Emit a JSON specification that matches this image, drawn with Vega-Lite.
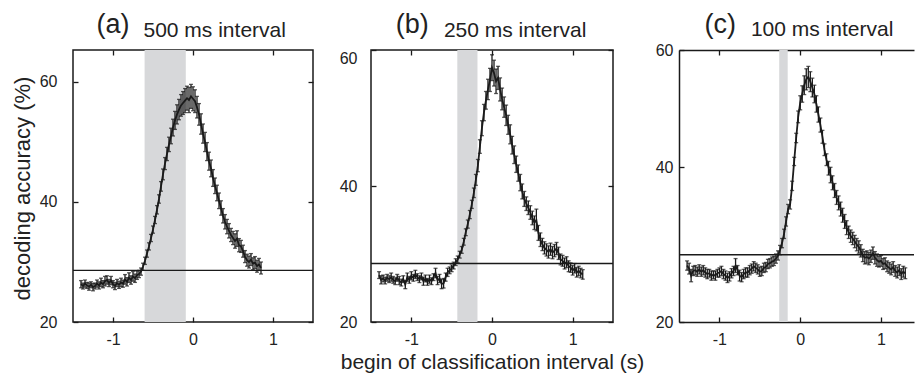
{
"$schema": "https://vega.github.io/schema/vega-lite/v6.json",
"padding": {"left": 10, "top": 9, "right": 0, "bottom": 0},
"background": "white",
"config": {
 "font": "Liberation Sans",
 "view": {"stroke": "#1a1a1a", "strokeWidth": 1.5},
 "axis": {"grid": false, "domain": false, "domainColor": "#1a1a1a", "domainWidth": 1.5, "tickColor": "#1a1a1a", "tickWidth": 1.3, "labelFont": "Liberation Sans", "labelFontSize": 16, "labelColor": "#222", "titleFont": "Liberation Sans", "titleFontWeight": "normal", "titleColor": "#222"}
},
"datasets": {
 "a": [
  {"x":-1.4,"y":26.3,"e":0.6},{"x":-1.375,"y":26.0,"e":0.5},{"x":-1.35,"y":26.4,"e":0.6},{"x":-1.325,"y":26.1,"e":0.5},{"x":-1.3,"y":25.9,"e":0.6},{"x":-1.275,"y":26.2,"e":0.5},{"x":-1.25,"y":25.8,"e":0.6},{"x":-1.225,"y":26.0,"e":0.5},{"x":-1.2,"y":26.4,"e":0.6},{"x":-1.175,"y":26.1,"e":0.6},{"x":-1.15,"y":26.6,"e":0.7},{"x":-1.125,"y":26.3,"e":0.6},{"x":-1.1,"y":26.8,"e":0.8},{"x":-1.075,"y":27.0,"e":0.7},{"x":-1.05,"y":26.5,"e":0.6},{"x":-1.025,"y":26.9,"e":0.7},{"x":-1.0,"y":26.3,"e":0.6},{"x":-0.975,"y":26.0,"e":0.6},{"x":-0.95,"y":26.5,"e":0.6},{"x":-0.925,"y":26.2,"e":0.6},{"x":-0.9,"y":26.6,"e":0.7},{"x":-0.875,"y":26.4,"e":0.6},{"x":-0.85,"y":27.1,"e":0.8},{"x":-0.825,"y":26.7,"e":0.7},{"x":-0.8,"y":27.4,"e":0.8},{"x":-0.775,"y":27.0,"e":0.7},{"x":-0.75,"y":27.6,"e":0.8},{"x":-0.725,"y":27.3,"e":0.7},{"x":-0.7,"y":27.8,"e":0.7},{"x":-0.675,"y":28.0,"e":0.6},{"x":-0.65,"y":28.4,"e":0.6},{"x":-0.625,"y":29.2,"e":0.6},{"x":-0.6,"y":30.2,"e":0.6},{"x":-0.575,"y":31.4,"e":0.6},{"x":-0.55,"y":32.6,"e":0.6},{"x":-0.525,"y":34.0,"e":0.6},{"x":-0.5,"y":35.4,"e":0.6},{"x":-0.475,"y":37.0,"e":0.6},{"x":-0.45,"y":38.7,"e":0.7},{"x":-0.425,"y":40.5,"e":0.7},{"x":-0.4,"y":42.6,"e":0.8},{"x":-0.375,"y":44.6,"e":0.9},{"x":-0.35,"y":46.4,"e":1.0},{"x":-0.325,"y":48.0,"e":1.1},{"x":-0.3,"y":49.6,"e":1.2},{"x":-0.275,"y":51.0,"e":1.3},{"x":-0.25,"y":52.4,"e":1.4},{"x":-0.225,"y":53.6,"e":1.5},{"x":-0.2,"y":54.6,"e":1.6},{"x":-0.175,"y":55.4,"e":1.7},{"x":-0.15,"y":56.1,"e":1.8},{"x":-0.125,"y":56.5,"e":1.9},{"x":-0.1,"y":56.9,"e":2.0},{"x":-0.075,"y":57.3,"e":2.0},{"x":-0.05,"y":57.0,"e":2.1},{"x":-0.025,"y":57.6,"e":2.0},{"x":0.0,"y":57.2,"e":2.0},{"x":0.025,"y":56.8,"e":1.9},{"x":0.05,"y":55.8,"e":1.8},{"x":0.075,"y":54.6,"e":1.8},{"x":0.1,"y":53.0,"e":1.7},{"x":0.125,"y":51.4,"e":1.6},{"x":0.15,"y":50.0,"e":1.6},{"x":0.175,"y":48.4,"e":1.5},{"x":0.2,"y":46.8,"e":1.5},{"x":0.225,"y":45.6,"e":1.4},{"x":0.25,"y":44.0,"e":1.4},{"x":0.275,"y":42.7,"e":1.3},{"x":0.3,"y":41.5,"e":1.3},{"x":0.325,"y":40.2,"e":1.3},{"x":0.35,"y":39.0,"e":1.2},{"x":0.375,"y":37.7,"e":1.2},{"x":0.4,"y":36.7,"e":1.2},{"x":0.425,"y":35.9,"e":1.2},{"x":0.45,"y":35.2,"e":1.2},{"x":0.475,"y":34.5,"e":1.1},{"x":0.5,"y":34.0,"e":1.1},{"x":0.525,"y":33.5,"e":1.2},{"x":0.55,"y":33.9,"e":1.3},{"x":0.575,"y":32.8,"e":1.1},{"x":0.6,"y":32.6,"e":1.0},{"x":0.625,"y":31.8,"e":1.0},{"x":0.65,"y":30.9,"e":1.0},{"x":0.675,"y":30.3,"e":1.0},{"x":0.7,"y":30.0,"e":1.0},{"x":0.725,"y":30.4,"e":1.0},{"x":0.75,"y":29.7,"e":1.0},{"x":0.775,"y":29.9,"e":1.0},{"x":0.8,"y":29.3,"e":1.0},{"x":0.825,"y":29.6,"e":1.0},{"x":0.85,"y":29.0,"e":1.0}
 ],
 "b": [
  {"x":-1.4,"y":26.9,"e":0.5},{"x":-1.375,"y":26.2,"e":0.6},{"x":-1.35,"y":26.4,"e":0.5},{"x":-1.325,"y":26.1,"e":0.5},{"x":-1.3,"y":26.5,"e":0.5},{"x":-1.275,"y":26.3,"e":0.5},{"x":-1.25,"y":26.6,"e":0.6},{"x":-1.225,"y":26.2,"e":0.5},{"x":-1.2,"y":26.0,"e":0.5},{"x":-1.175,"y":26.5,"e":0.5},{"x":-1.15,"y":26.1,"e":0.6},{"x":-1.125,"y":25.8,"e":0.5},{"x":-1.1,"y":26.3,"e":0.5},{"x":-1.075,"y":25.5,"e":0.6},{"x":-1.05,"y":26.6,"e":0.6},{"x":-1.025,"y":26.2,"e":0.5},{"x":-1.0,"y":26.8,"e":0.6},{"x":-0.975,"y":26.5,"e":0.5},{"x":-0.95,"y":27.0,"e":0.6},{"x":-0.925,"y":26.6,"e":0.5},{"x":-0.9,"y":26.3,"e":0.5},{"x":-0.875,"y":26.7,"e":0.5},{"x":-0.85,"y":26.0,"e":0.6},{"x":-0.825,"y":26.4,"e":0.5},{"x":-0.8,"y":25.9,"e":0.5},{"x":-0.775,"y":26.3,"e":0.6},{"x":-0.75,"y":26.0,"e":0.5},{"x":-0.725,"y":26.6,"e":0.5},{"x":-0.7,"y":27.2,"e":0.7},{"x":-0.675,"y":26.1,"e":0.6},{"x":-0.65,"y":26.4,"e":0.6},{"x":-0.625,"y":25.6,"e":0.7},{"x":-0.6,"y":25.7,"e":0.7},{"x":-0.575,"y":26.6,"e":0.6},{"x":-0.55,"y":27.3,"e":0.6},{"x":-0.525,"y":27.6,"e":0.5},{"x":-0.5,"y":27.9,"e":0.5},{"x":-0.475,"y":28.3,"e":0.5},{"x":-0.45,"y":28.8,"e":0.5},{"x":-0.425,"y":29.2,"e":0.5},{"x":-0.4,"y":29.9,"e":0.5},{"x":-0.375,"y":30.6,"e":0.5},{"x":-0.35,"y":31.8,"e":0.5},{"x":-0.325,"y":33.2,"e":0.5},{"x":-0.3,"y":34.4,"e":0.6},{"x":-0.275,"y":35.8,"e":0.6},{"x":-0.25,"y":37.3,"e":0.6},{"x":-0.225,"y":39.0,"e":0.7},{"x":-0.2,"y":40.9,"e":0.8},{"x":-0.175,"y":43.0,"e":0.9},{"x":-0.15,"y":45.8,"e":1.0},{"x":-0.125,"y":48.5,"e":1.1},{"x":-0.1,"y":50.8,"e":1.2},{"x":-0.075,"y":52.6,"e":1.3},{"x":-0.05,"y":54.2,"e":1.5},{"x":-0.025,"y":55.6,"e":1.7},{"x":0.0,"y":57.4,"e":1.9},{"x":0.025,"y":56.6,"e":1.9},{"x":0.05,"y":55.4,"e":1.8},{"x":0.075,"y":55.9,"e":1.7},{"x":0.1,"y":54.2,"e":1.7},{"x":0.125,"y":52.8,"e":1.6},{"x":0.15,"y":51.6,"e":1.5},{"x":0.175,"y":50.4,"e":1.5},{"x":0.2,"y":49.0,"e":1.4},{"x":0.225,"y":47.6,"e":1.4},{"x":0.25,"y":46.0,"e":1.3},{"x":0.275,"y":44.6,"e":1.3},{"x":0.3,"y":43.2,"e":1.2},{"x":0.325,"y":41.9,"e":1.2},{"x":0.35,"y":40.5,"e":1.2},{"x":0.375,"y":39.2,"e":1.1},{"x":0.4,"y":38.1,"e":1.1},{"x":0.425,"y":37.4,"e":1.0},{"x":0.45,"y":36.8,"e":1.0},{"x":0.475,"y":36.1,"e":1.0},{"x":0.5,"y":35.3,"e":1.0},{"x":0.525,"y":34.6,"e":1.0},{"x":0.55,"y":35.0,"e":1.6},{"x":0.575,"y":33.1,"e":1.1},{"x":0.6,"y":32.1,"e":1.0},{"x":0.625,"y":31.4,"e":0.9},{"x":0.65,"y":30.9,"e":0.9},{"x":0.675,"y":30.6,"e":0.9},{"x":0.7,"y":30.3,"e":0.9},{"x":0.725,"y":30.7,"e":0.9},{"x":0.75,"y":30.2,"e":0.9},{"x":0.775,"y":30.5,"e":0.9},{"x":0.8,"y":30.8,"e":0.9},{"x":0.825,"y":30.1,"e":0.9},{"x":0.85,"y":29.2,"e":0.8},{"x":0.875,"y":29.0,"e":0.8},{"x":0.9,"y":28.6,"e":0.8},{"x":0.925,"y":28.8,"e":0.8},{"x":0.95,"y":28.2,"e":0.8},{"x":0.975,"y":28.0,"e":0.7},{"x":1.0,"y":27.6,"e":0.7},{"x":1.025,"y":27.9,"e":0.7},{"x":1.05,"y":27.3,"e":0.7},{"x":1.075,"y":27.5,"e":0.7},{"x":1.1,"y":27.2,"e":0.7},{"x":1.125,"y":27.0,"e":0.7}
 ],
 "c": [
  {"x":-1.4,"y":27.3,"e":0.6},{"x":-1.375,"y":26.9,"e":0.7},{"x":-1.35,"y":26.0,"e":0.8},{"x":-1.325,"y":26.6,"e":0.6},{"x":-1.3,"y":26.7,"e":0.6},{"x":-1.275,"y":26.5,"e":0.6},{"x":-1.25,"y":26.8,"e":0.6},{"x":-1.225,"y":26.5,"e":0.6},{"x":-1.2,"y":26.7,"e":0.6},{"x":-1.175,"y":26.4,"e":0.6},{"x":-1.15,"y":26.2,"e":0.6},{"x":-1.125,"y":26.3,"e":0.5},{"x":-1.1,"y":26.0,"e":0.6},{"x":-1.075,"y":26.1,"e":0.5},{"x":-1.05,"y":26.0,"e":0.6},{"x":-1.025,"y":26.3,"e":0.5},{"x":-1.0,"y":26.4,"e":0.6},{"x":-0.975,"y":26.6,"e":0.6},{"x":-0.95,"y":26.2,"e":0.6},{"x":-0.925,"y":26.0,"e":0.6},{"x":-0.9,"y":25.7,"e":0.6},{"x":-0.875,"y":25.9,"e":0.6},{"x":-0.85,"y":26.3,"e":0.6},{"x":-0.825,"y":26.6,"e":0.6},{"x":-0.8,"y":27.3,"e":0.9},{"x":-0.775,"y":26.7,"e":0.6},{"x":-0.75,"y":26.0,"e":0.7},{"x":-0.725,"y":25.8,"e":0.6},{"x":-0.7,"y":26.2,"e":0.6},{"x":-0.675,"y":26.4,"e":0.6},{"x":-0.65,"y":26.4,"e":0.6},{"x":-0.625,"y":26.7,"e":0.6},{"x":-0.6,"y":26.9,"e":0.6},{"x":-0.575,"y":27.2,"e":0.6},{"x":-0.55,"y":27.0,"e":0.6},{"x":-0.525,"y":26.8,"e":0.6},{"x":-0.5,"y":26.5,"e":0.6},{"x":-0.475,"y":26.6,"e":0.6},{"x":-0.45,"y":27.0,"e":0.6},{"x":-0.425,"y":27.1,"e":0.6},{"x":-0.4,"y":27.5,"e":0.6},{"x":-0.375,"y":27.6,"e":0.6},{"x":-0.35,"y":27.8,"e":0.6},{"x":-0.325,"y":27.9,"e":0.6},{"x":-0.3,"y":28.2,"e":0.6},{"x":-0.275,"y":28.6,"e":0.6},{"x":-0.25,"y":29.3,"e":0.6},{"x":-0.225,"y":30.2,"e":0.6},{"x":-0.2,"y":31.4,"e":0.6},{"x":-0.175,"y":33.0,"e":0.6},{"x":-0.15,"y":34.6,"e":0.6},{"x":-0.125,"y":35.2,"e":0.6},{"x":-0.1,"y":37.6,"e":0.6},{"x":-0.075,"y":41.0,"e":0.7},{"x":-0.05,"y":45.0,"e":0.8},{"x":-0.025,"y":48.6,"e":1.0},{"x":0.0,"y":51.0,"e":1.2},{"x":0.025,"y":52.5,"e":1.4},{"x":0.05,"y":54.0,"e":1.6},{"x":0.075,"y":55.0,"e":1.8},{"x":0.1,"y":55.4,"e":1.8},{"x":0.125,"y":54.6,"e":1.7},{"x":0.15,"y":53.6,"e":1.6},{"x":0.175,"y":52.5,"e":1.5},{"x":0.2,"y":50.8,"e":1.4},{"x":0.225,"y":49.0,"e":1.3},{"x":0.25,"y":47.2,"e":1.2},{"x":0.275,"y":45.2,"e":1.1},{"x":0.3,"y":43.0,"e":1.0},{"x":0.325,"y":41.3,"e":1.0},{"x":0.35,"y":40.0,"e":1.0},{"x":0.375,"y":39.0,"e":1.0},{"x":0.4,"y":38.0,"e":0.9},{"x":0.425,"y":37.0,"e":0.9},{"x":0.45,"y":36.1,"e":0.9},{"x":0.475,"y":35.4,"e":0.9},{"x":0.5,"y":34.6,"e":0.9},{"x":0.525,"y":33.8,"e":0.9},{"x":0.55,"y":33.0,"e":0.9},{"x":0.575,"y":32.2,"e":0.9},{"x":0.6,"y":31.6,"e":0.8},{"x":0.625,"y":31.1,"e":0.8},{"x":0.65,"y":30.8,"e":0.8},{"x":0.675,"y":30.4,"e":0.8},{"x":0.7,"y":30.0,"e":0.8},{"x":0.725,"y":29.7,"e":0.8},{"x":0.75,"y":29.2,"e":0.8},{"x":0.775,"y":28.6,"e":0.8},{"x":0.8,"y":28.3,"e":0.8},{"x":0.825,"y":28.4,"e":0.8},{"x":0.85,"y":28.2,"e":0.8},{"x":0.875,"y":28.5,"e":0.8},{"x":0.9,"y":28.9,"e":0.8},{"x":0.925,"y":28.3,"e":0.8},{"x":0.95,"y":28.0,"e":0.8},{"x":0.975,"y":27.8,"e":0.7},{"x":1.0,"y":27.9,"e":0.7},{"x":1.025,"y":27.5,"e":0.7},{"x":1.05,"y":27.6,"e":0.7},{"x":1.075,"y":27.2,"e":0.7},{"x":1.1,"y":27.0,"e":0.7},{"x":1.125,"y":26.8,"e":0.7},{"x":1.15,"y":27.1,"e":0.7},{"x":1.175,"y":26.6,"e":0.7},{"x":1.2,"y":26.4,"e":0.7},{"x":1.225,"y":26.7,"e":0.7},{"x":1.25,"y":26.2,"e":0.7},{"x":1.275,"y":26.5,"e":0.7},{"x":1.3,"y":26.3,"e":0.7}
 ]
},
"hconcat": [
 {"hconcat": [
  {
   "width": 240, "height": 272,
   "data": {"name": "a"},
   "layer": [
    {"data": {"values": [{"s": -0.605, "t": -0.09}]},
     "mark": {"type": "rect", "color": "#d7d8da"},
     "encoding": {
      "x": {"field": "s", "type": "quantitative", "scale": {"domain": [-1.5, 1.5], "nice": false, "zero": false},
            "axis": {"orient": "top", "values": [-1, 0, 1], "labels": false, "tickSize": -5, "title": "(a)", "titleFontSize": 27, "titleX": 39.5, "titleY": -18, "titleAlign": "center", "titleBaseline": "alphabetic", "titleAngle": 0}},
      "x2": {"field": "t"}}},
    {"data": {"values": [{"k": 1}]},
     "mark": {"type": "rule", "color": "#1a1a1a", "strokeWidth": 1.4},
     "encoding": {"y": {"datum": 28.6, "type": "quantitative",
      "axis": {"orient": "right", "values": [20, 40, 60], "labels": false, "tickSize": -5, "title": "500 ms interval", "titleFontSize": 21, "titleAngle": 0, "titleX": -170, "titleY": -14, "titleAlign": "left", "titleBaseline": "alphabetic"}}}},
    {"mark": {"type": "line", "color": "#1e1e1e", "strokeWidth": 1.8},
     "encoding": {
      "x": {"field": "x", "type": "quantitative", "scale": {"domain": [-1.5, 1.5], "nice": false, "zero": false},
            "axis": {"orient": "bottom", "values": [-1, 0, 1], "labelExpr": "datum.value + ''", "tickSize": -5, "labelPadding": 14, "title": null}},
      "y": {"field": "y", "type": "quantitative", "scale": {"domain": [20, 65.33], "nice": false, "zero": false},
            "axis": {"orient": "left", "values": [20, 40, 60], "tickSize": -5, "labelPadding": 21, "title": "decoding accuracy (%)", "titleFontSize": 22, "titleX": -44, "titleY": 138, "titleAngle": -90, "titleAlign": "center", "titleBaseline": "alphabetic"}}}},
    {"mark": {"type": "errorbar", "color": "#1a1a1a", "ticks": {"size": 4}, "thickness": 1.3},
     "encoding": {
      "x": {"field": "x", "type": "quantitative", "axis": null},
      "y": {"field": "y", "type": "quantitative", "axis": null},
      "yError": {"field": "e"}}}
   ],
   "resolve": {"axis": {"x": "independent", "y": "independent"}}
  },
  {
   "width": 242, "height": 272,
   "data": {"name": "b"},
   "layer": [
    {"data": {"values": [{"s": -0.43, "t": -0.18}]},
     "mark": {"type": "rect", "color": "#d7d8da"},
     "encoding": {
      "x": {"field": "s", "type": "quantitative", "scale": {"domain": [-1.5, 1.5], "nice": false, "zero": false},
            "axis": {"orient": "top", "values": [-1, 0, 1], "labels": false, "tickSize": -5, "title": "(b)", "titleFontSize": 27, "titleX": 40.7, "titleY": -18, "titleAlign": "center", "titleBaseline": "alphabetic", "titleAngle": 0}},
      "x2": {"field": "t"}}},
    {"data": {"values": [{"k": 1}]},
     "mark": {"type": "rule", "color": "#1a1a1a", "strokeWidth": 1.4},
     "encoding": {"y": {"datum": 28.6, "type": "quantitative",
      "axis": {"orient": "right", "values": [20, 40, 60], "labels": false, "tickSize": -5, "title": "250 ms interval", "titleFontSize": 21, "titleAngle": 0, "titleX": -169.6, "titleY": -14, "titleAlign": "left", "titleBaseline": "alphabetic"}}}},
    {"mark": {"type": "line", "color": "#1e1e1e", "strokeWidth": 1.8},
     "encoding": {
      "x": {"field": "x", "type": "quantitative", "scale": {"domain": [-1.5, 1.5], "nice": false, "zero": false},
            "axis": {"orient": "bottom", "values": [-1, 0, 1], "labelExpr": "datum.value + ''", "tickSize": -5, "labelPadding": 14, "title": "begin of classification interval (s)", "titleFontSize": 21, "titleX": 121, "titleY": 46, "titleAlign": "center", "titleBaseline": "alphabetic"}},
      "y": {"field": "y", "type": "quantitative", "scale": {"domain": [20, 60], "nice": false, "zero": false},
            "axis": {"orient": "left", "values": [20, 40, 60], "tickSize": -5, "labelPadding": 19, "title": null,
                     "labelBaseline": {"condition": {"test": "datum.value == 60", "value": "top"}, "value": "middle"}}}}},
    {"mark": {"type": "errorbar", "color": "#1a1a1a", "ticks": {"size": 4}, "thickness": 1.3},
     "encoding": {
      "x": {"field": "x", "type": "quantitative", "axis": null},
      "y": {"field": "y", "type": "quantitative", "axis": null},
      "yError": {"field": "e"}}}
   ],
   "resolve": {"axis": {"x": "independent", "y": "independent"}}
  }
 ], "spacing": 58, "bounds": "flush"},
 {
  "width": 235, "height": 272,
  "view": {"stroke": null},
  "data": {"name": "c"},
  "layer": [
   {"data": {"values": [{"s": -0.26, "t": -0.155}]},
    "mark": {"type": "rect", "color": "#d7d8da"},
    "encoding": {
     "x": {"field": "s", "type": "quantitative", "scale": {"domain": [-1.5, 1.408], "nice": false, "zero": false},
           "axis": {"orient": "top", "values": [-1, 0, 1], "labels": false, "tickSize": -5, "domain": true, "title": "(c)", "titleFontSize": 27, "titleX": 40.7, "titleY": -18, "titleAlign": "center", "titleBaseline": "alphabetic", "titleAngle": 0}},
     "x2": {"field": "t"}}},
   {"data": {"values": [{"k": 1}]},
    "mark": {"type": "rule", "color": "#1a1a1a", "strokeWidth": 1.4},
    "encoding": {"y": {"datum": 28.7, "type": "quantitative",
     "axis": {"orient": "right", "values": [20, 40, 60], "labels": false, "ticks": false, "title": "100 ms interval", "titleFontSize": 21, "titleAngle": 0, "titleX": -163.6, "titleY": -14.3, "titleAlign": "left", "titleBaseline": "alphabetic"}}}},
   {"mark": {"type": "line", "color": "#1e1e1e", "strokeWidth": 1.8},
    "encoding": {
     "x": {"field": "x", "type": "quantitative", "scale": {"domain": [-1.5, 1.408], "nice": false, "zero": false},
           "axis": {"orient": "bottom", "values": [-1, 0, 1], "labelExpr": "datum.value + ''", "tickSize": -5, "labelPadding": 14, "domain": true, "title": null}},
     "y": {"field": "y", "type": "quantitative", "scale": {"domain": [20, 40, 60], "range": [272, 117.3, 0], "nice": false, "zero": false},
           "axis": {"orient": "left", "values": [20, 40, 60], "tickSize": -5, "labelPadding": 11, "domain": true, "title": null}}}},
   {"mark": {"type": "errorbar", "color": "#1a1a1a", "ticks": {"size": 4}, "thickness": 1.3},
    "encoding": {
     "x": {"field": "x", "type": "quantitative", "axis": null},
     "y": {"field": "y", "type": "quantitative", "axis": null},
     "yError": {"field": "e"}}}
  ],
  "resolve": {"axis": {"x": "independent", "y": "independent"}}
 }
],
"spacing": 10,
"bounds": "full"
}
